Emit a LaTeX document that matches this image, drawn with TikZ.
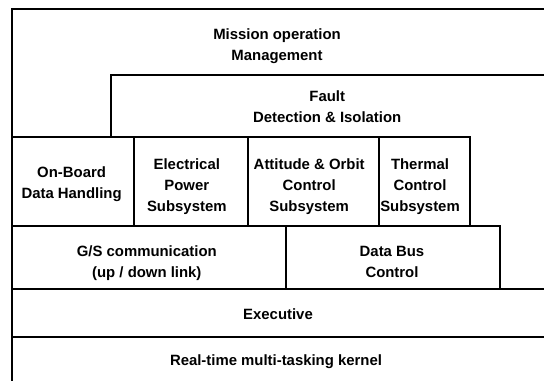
\documentclass[tikz,border=0pt]{standalone}
\usepackage{fontspec}
\setmainfont{Liberation Sans}

\begin{document}
\begin{tikzpicture}[scale=1, line width=1pt,
  lbl/.style={align=center, inner sep=0pt,
    font=\fontsize{10.6}{14.9}\selectfont\bfseries}]

\useasboundingbox (0,0) rectangle (13.6,9.525);

% Outer frame (open to the right)
\draw (13.6,9.3) -- (0.3,9.3) -- (0.3,0);

% Fault detection box
\draw (13.6,7.65) -- (2.775,7.65) -- (2.775,6.1);

% Subsystem row
\draw (0.3,6.1) -- (11.75,6.1) -- (11.75,3.875);
\foreach \x in {3.35,6.2,9.475}
  \draw (\x,6.1) -- (\x,3.875);

% Communication row
\draw (0.3,3.875) -- (12.5,3.875) -- (12.5,2.3);
\draw (7.15,3.875) -- (7.15,2.3);

% Executive and kernel layers
\draw (0.3,2.3) -- (13.6,2.3);
\draw (0.3,1.1) -- (13.6,1.1);

% Labels
\node[lbl] (mission) at (6.925,8.375) {Mission operation\\Management};
\node[lbl] (fault) at (8.18,6.85) {Fault\\Detection \& Isolation};
\node[lbl] (obdh) at (1.79,4.92) {On-Board\\Data Handling};
\node[lbl] (eps) at (4.67,4.85) {Electrical\\Power\\Subsystem};
\node[lbl] (aocs) at (7.73,4.85) {Attitude \& Orbit\\Control\\Subsystem};
\node[lbl] (thermal) at (10.5,4.85) {Thermal\\Control\\Subsystem};
\node[lbl] (gscomm) at (3.67,2.95) {G/S communication\\(up / down link)};
\node[lbl] (databus) at (9.8,2.97) {Data Bus\\Control};
\node[lbl] (exec) at (6.95,1.675) {Executive};
\node[lbl] (kernel) at (6.9,0.475) {Real-time multi-tasking kernel};

\end{tikzpicture}
\end{document}
